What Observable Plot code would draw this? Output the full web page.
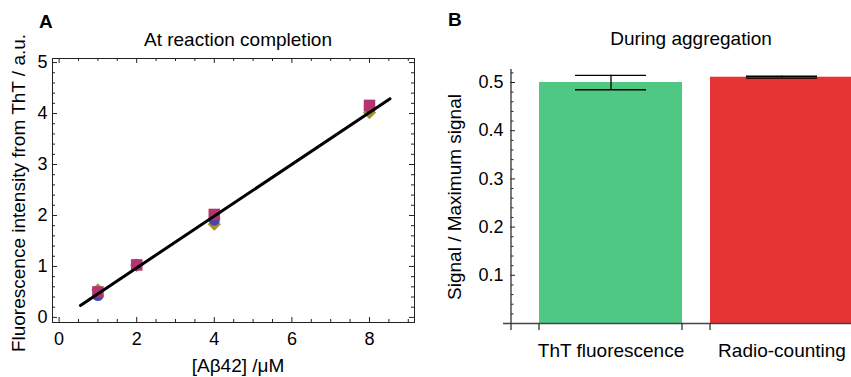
<!DOCTYPE html>
<html><head><meta charset="utf-8">
<script src="https://cdn.jsdelivr.net/npm/d3@7"></script>
<script src="https://cdn.jsdelivr.net/npm/@observablehq/plot@0.6"></script>
<style>
html,body{margin:0;padding:0;background:#fff;}
#wrap{position:relative;width:851px;height:377px;overflow:hidden;background:#fff;font-family:"Liberation Sans",Arial,sans-serif;}
#a,#b,#ann{position:absolute;top:0;}
#a{left:0px} #b{left:425px} #ann{left:0px;pointer-events:none}
</style></head><body>
<div id="wrap"><div id="a"></div><div id="b"></div>
<svg id="ann" width="851" height="377" font-family="Liberation Sans, Arial, sans-serif"></svg></div>
<script>
// ---- Panel A data ----
const conc = [1, 2, 4, 8];
const seriesCircle = [0.43, 1.03, 1.91, 4.13];
const seriesDiamond = [0.54, 1.02, 1.83, 4.02];
const seriesSquare = [0.50, 1.03, 2.02, 4.16];
const fitX = [0.55, 8.53];
const fitY = [0.235, 4.29];
const xTicksA = [0, 2, 4, 6, 8];
const yTicksA = [0, 1, 2, 3, 4, 5];
const xMinorA = [0.5, 1, 1.5, 2.5, 3, 3.5, 4.5, 5, 5.5, 6.5, 7, 7.5, 8.5, 9];
const yMinorA = [0.2, 0.4, 0.6, 0.8, 1.2, 1.4, 1.6, 1.8, 2.2, 2.4, 2.6, 2.8, 3.2, 3.4, 3.6, 3.8, 4.2, 4.4, 4.6, 4.8];
// ---- Panel B data ----
const categories = ["ThT fluorescence", "Radio-counting"];
const signal = [0.500, 0.511];
const signalErr = [0.015, 0.002];
const barColors = ["#4fc884", "#e53434"];
const yTicksB = [0.1, 0.2, 0.3, 0.4, 0.5];
const yMinorB = [0.02, 0.04, 0.06, 0.08, 0.12, 0.14, 0.16, 0.18, 0.22, 0.24, 0.26, 0.28, 0.32, 0.34, 0.36, 0.38, 0.42, 0.44, 0.46, 0.48, 0.52];

const FONT = '"Liberation Sans", Arial, sans-serif';
const H = 377;

// ---------- Panel A ----------
const WA = 425, mA = {l: 52, r: 11, t: 58, b: 55};
const pwA = WA - mA.l - mA.r, phA = H - mA.t - mA.b;
const plotA = Plot.plot({
  width: WA, height: H,
  marginLeft: mA.l, marginRight: mA.r, marginTop: mA.t, marginBottom: mA.b,
  style: {fontFamily: FONT, fontSize: "18px", color: "#000", background: "transparent"},
  x: {domain: [-0.17, 9.16]},
  y: {domain: [-0.1, 5.08]},
  marks: [
    Plot.frame({stroke: "#222", strokeWidth: 1}),
    Plot.tickX(xTicksA, {x: d => d, insetTop: phA - 5, stroke: "#222"}),
    Plot.tickX(xTicksA, {x: d => d, insetBottom: phA - 5, stroke: "#222"}),
    Plot.tickX(xMinorA, {x: d => d, insetTop: phA - 3, stroke: "#222"}),
    Plot.tickX(xMinorA, {x: d => d, insetBottom: phA - 3, stroke: "#222"}),
    Plot.tickY(yTicksA, {y: d => d, insetRight: pwA - 5, stroke: "#222"}),
    Plot.tickY(yTicksA, {y: d => d, insetLeft: pwA - 5, stroke: "#222"}),
    Plot.tickY(yMinorA, {y: d => d, insetRight: pwA - 3, stroke: "#222"}),
    Plot.tickY(yMinorA, {y: d => d, insetLeft: pwA - 3, stroke: "#222"}),
    Plot.axisX(xTicksA, {tickSize: 0, tickPadding: 10, label: null, fontSize: 18, tickFormat: d => String(d)}),
    Plot.axisY(yTicksA, {tickSize: 0, tickPadding: 5, label: null, fontSize: 18, tickFormat: d => String(d)}),
    Plot.dot(conc, {x: d => d, y: (d, i) => seriesDiamond[i], symbol: "diamond2", r: 6, fill: "#a99035", stroke: "none"}),
    Plot.dot(conc, {x: d => d, y: (d, i) => seriesCircle[i], symbol: "circle", r: 5.6, fill: "#4646aa", stroke: "none"}),
    Plot.dot(conc, {x: d => d, y: (d, i) => seriesSquare[i], symbol: "square", r: 6.5, fill: "#b2356f", stroke: "none"}),
    Plot.line(fitX, {x: d => d, y: (d, i) => fitY[i], stroke: "#000", strokeWidth: 3})
  ]
});
document.getElementById("a").appendChild(plotA);

// ---------- Panel B ----------
const WB = 426, mB = {l: 86, r: 0, t: 69, b: 54};
const pwB = WB - mB.l - mB.r;
const plotB = Plot.plot({
  width: WB, height: H,
  marginLeft: mB.l, marginRight: mB.r, marginTop: mB.t, marginBottom: mB.b,
  style: {fontFamily: FONT, fontSize: "18px", color: "#000", background: "transparent"},
  x: {type: "band", domain: categories, range: [86, 456], paddingInner: 0.1637, paddingOuter: 0.1637, align: 0.5},
  y: {domain: [0, 0.527]},
  color: {domain: categories, range: barColors},
  marks: [
    Plot.barY(categories, {x: d => d, y: (d, i) => signal[i], fill: d => d}),
    Plot.ruleY([0], {insetLeft: -8, stroke: "#444", strokeWidth: 1.3}),
    Plot.ruleX(categories, {x: d => d, y1: (d, i) => signal[i] - signalErr[i], y2: (d, i) => signal[i] + signalErr[i], stroke: "#000", strokeWidth: 1.3}),
    Plot.tickY(categories, {x: d => d, y: (d, i) => signal[i] - signalErr[i], insetLeft: 36, insetRight: 36, stroke: "#000", strokeWidth: 1.3}),
    Plot.tickY(categories, {x: d => d, y: (d, i) => signal[i] + signalErr[i], insetLeft: 36, insetRight: 36, stroke: "#000", strokeWidth: 1.3}),
    Plot.tickY(yTicksB, {y: d => d, insetLeft: -1, insetRight: pwB - 4, stroke: "#222"}),
    Plot.tickY(yMinorB, {y: d => d, insetRight: pwB - 2.5, stroke: "#222"}),
    Plot.axisY(yTicksB, {tickSize: 0, tickPadding: 8, label: null, fontSize: 18, tickFormat: d => d.toFixed(1)}),
    Plot.axisX({tickSize: 0, tickPadding: 20, label: null, fontSize: 19})
  ]
});
document.getElementById("b").appendChild(plotB);

// axis line and bar-edge ticks for panel B, from Plot's own scales
{
  const sx = plotB.scale("x"), sy = plotB.scale("y");
  const g = d3.select(plotB).append("g").attr("stroke", "#333").attr("stroke-width", 1.3);
  const y0 = sy.apply(0);
  g.append("line").attr("x1", mB.l).attr("x2", mB.l).attr("y1", y0 + 0.5).attr("y2", sy.apply(sy.domain[1]));
  const edges = [mB.l];
  categories.forEach(c => { edges.push(sx.apply(c), sx.apply(c) + sx.bandwidth); });
  edges.forEach(x => g.append("line").attr("x1", x).attr("x2", x).attr("y1", y0).attr("y2", y0 + 7));
}

// ---------- Annotations ----------
const ann = d3.select("#ann");
const addText = (txt, x, y, opts = {}) => {
  const t = ann.append("text").attr("x", x).attr("y", y).attr("font-size", opts.size || 19)
    .attr("text-anchor", opts.anchor || "middle").attr("fill", "#000").text(txt);
  if (opts.bold) t.attr("font-weight", "bold");
  if (opts.rotate) t.attr("transform", `rotate(-90 ${x} ${y})`);
  return t;
};
addText("A", 39, 28, {anchor: "start", bold: true});
addText("B", 448, 26, {anchor: "start", bold: true});
addText("At reaction completion", 238, 46);
addText("During aggregation", 691, 45);
addText("[Aβ42] /μM", 238, 372);
addText("Fluorescence intensity from ThT / a.u.", 25, 193, {rotate: true});
addText("Signal / Maximum signal", 461, 197, {rotate: true});
</script>
</body></html>
